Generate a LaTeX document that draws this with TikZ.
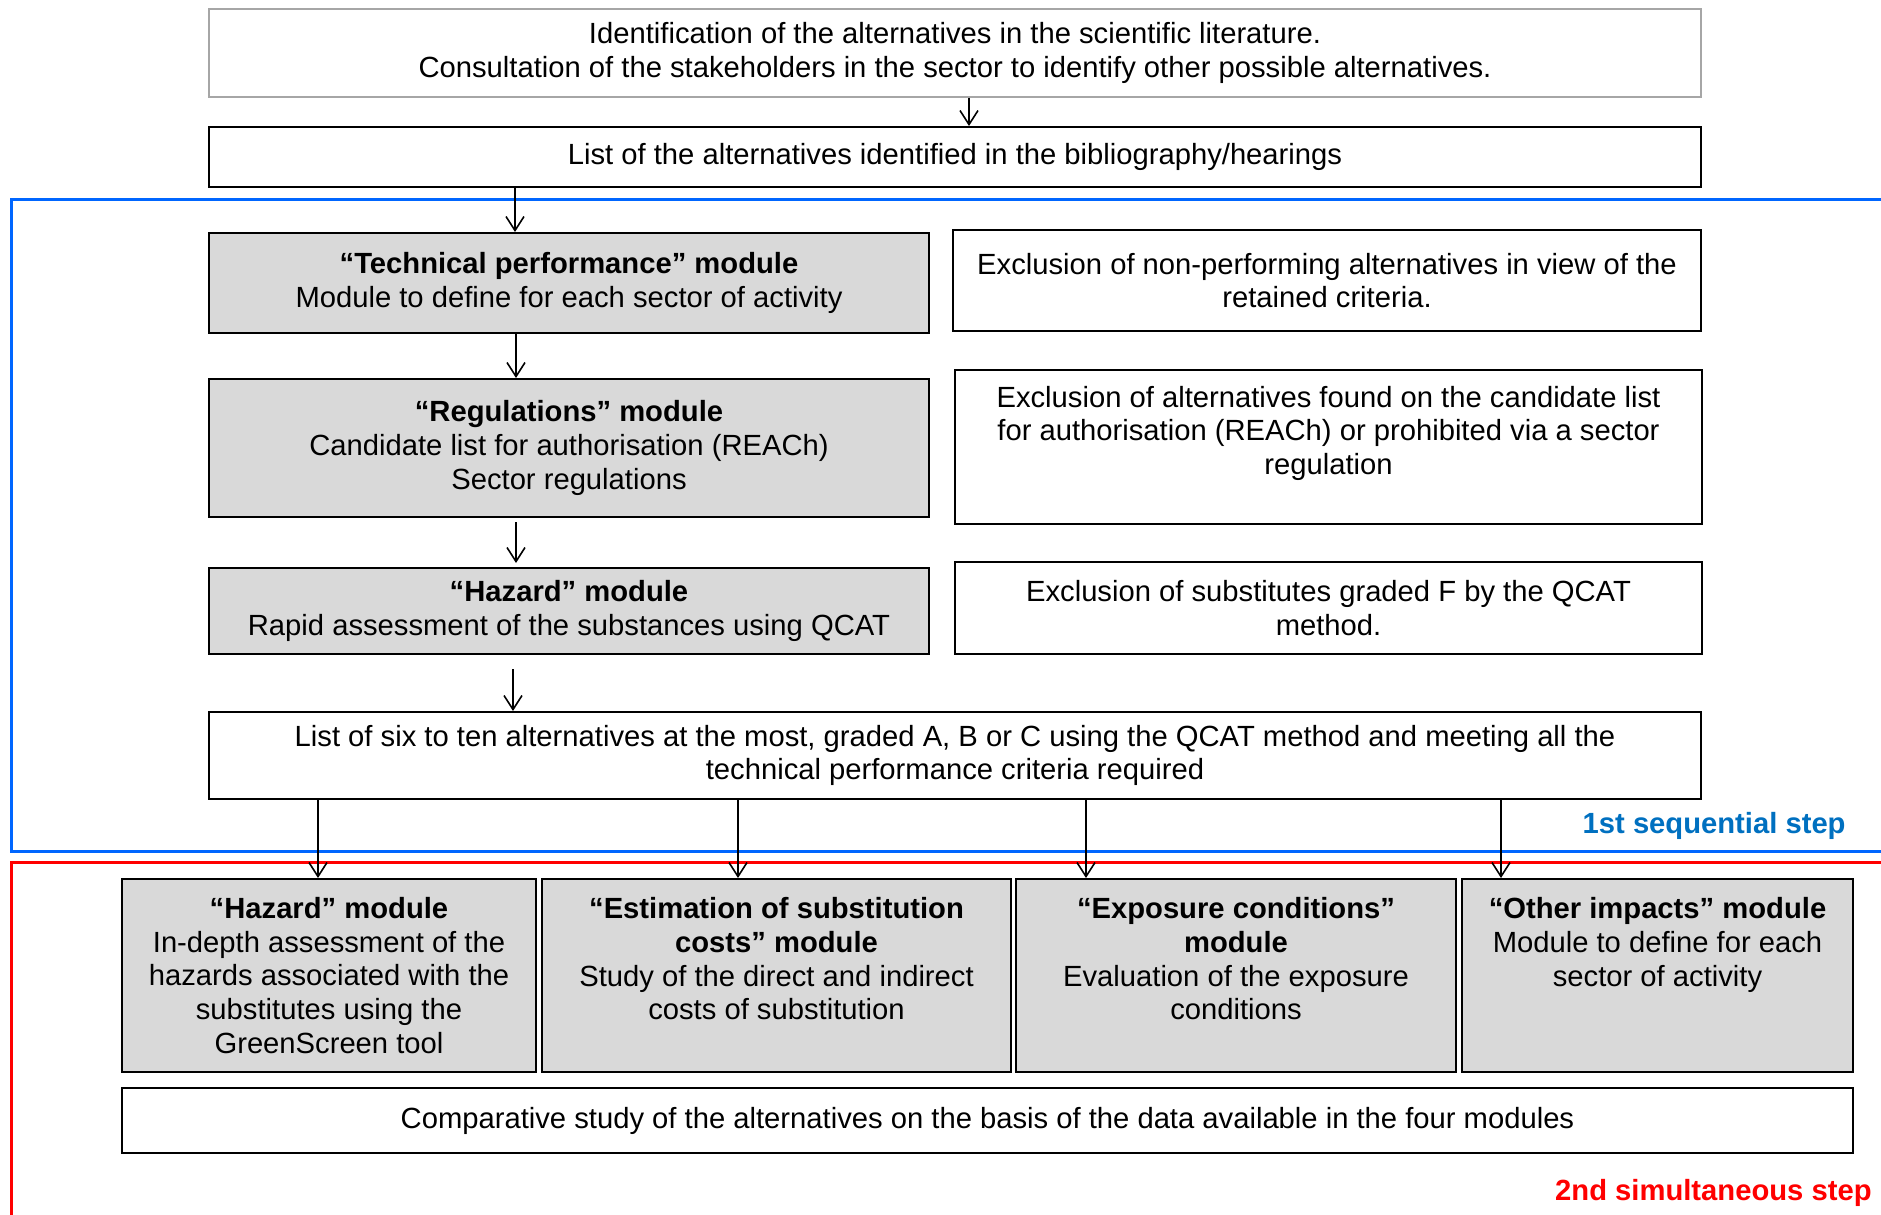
\documentclass[tikz,border=0pt]{standalone}
\usepackage{fontspec}
\setmainfont{Liberation Sans}
\usetikzlibrary{arrows.meta}
\definecolor{stepblue}{RGB}{0,102,255}
\definecolor{steptext}{RGB}{0,112,192}
\definecolor{modgray}{RGB}{217,217,217}
\begin{document}
\begin{tikzpicture}[x=0.5pt, y=-0.5pt, >={Straight Barb[length=7pt,width=9pt]},
    font=\fontsize{14.6}{16.8}\selectfont]
      \tikzstyle{box}=[draw, line width=1pt, align=center, inner sep=0pt, anchor=center]
      \tikzstyle{module}=[box, fill=modgray]
      \tikzstyle{arr}=[->, line width=0.8pt]
      \useasboundingbox (0,0) rectangle (1881,1215);

      % step frames
      \draw [stepblue, line width=1.5pt] (1890,199) -- (11,199) -- (11,851) -- (1890,851);
      \draw [red, line width=1.5pt] (1890,862) -- (11,862) -- (11,1225);
      \node [anchor=east, inner sep=0pt, text=steptext, font=\fontsize{14.6}{16.8}\selectfont\bfseries] (step1) at (1846,826) {1st sequential step};
      \node [anchor=east, inner sep=0pt, text=red, font=\fontsize{14.6}{16.8}\selectfont\bfseries] (step2) at (1872,1193) {2nd simultaneous step};

      % draw boxes
      \node [box, draw=gray!70, line width=0.6pt, minimum width=746pt, minimum height=44pt] (ident) at (955,53)
        {Identification of the alternatives in the scientific literature.\\Consultation of the stakeholders in the sector to identify other possible alternatives.};
      \node [box, minimum width=746pt, minimum height=30pt] (biblio) at (955,157)
        {List of the alternatives identified in the bibliography/hearings};

      \node [module, minimum width=360pt, minimum height=50pt] (technical) at (569,283)
        {\textbf{“Technical performance” module}\\Module to define for each sector of activity};
      \node [box, minimum width=374pt, minimum height=50.5pt] (excl1) at (1327,280.5)
        {Exclusion of non-performing alternatives in view of the\\retained criteria.};

      \node [module, minimum width=360pt, minimum height=69pt] (regulations) at (569,448)
        {\textbf{“Regulations” module}\\Candidate list for authorisation (REACh)\\Sector regulations};
      \node [box, minimum width=373.5pt, minimum height=77pt] (excl2) at (1328.5,447)
        {Exclusion of alternatives found on the candidate list\\for authorisation (REACh) or prohibited via a sector\\regulation\\\mbox{}};

      \node [module, minimum width=360pt, minimum height=43pt] (hazard) at (569,611)
        {\textbf{“Hazard” module}\\Rapid assessment of the substances using QCAT};
      \node [box, minimum width=373.5pt, minimum height=46pt] (excl3) at (1328.5,608)
        {Exclusion of substitutes graded F by the QCAT\\method.};

      \node [box, minimum width=746pt, minimum height=43.5pt] (shortlist) at (955,755.5)
        {List of six to ten alternatives at the most, graded A, B or C using the QCAT method and meeting all the\\technical performance criteria required};

      \node [module, minimum width=207pt, minimum height=96.5pt] (hazard2) at (329,975.5)
        {\textbf{“Hazard” module}\\In-depth assessment of the\\hazards associated with the\\substitutes using the\\GreenScreen tool};
      \node [module, minimum width=234.5pt, minimum height=96.5pt] (costs) at (776.5,975.5)
        {\textbf{“Estimation of substitution}\\\textbf{costs” module}\\Study of the direct and indirect\\costs of substitution\\\mbox{}};
      \node [module, minimum width=220pt, minimum height=96.5pt] (exposure) at (1236,975.5)
        {\textbf{“Exposure conditions”}\\\textbf{module}\\Evaluation of the exposure\\conditions\\\mbox{}};
      \node [module, minimum width=195.5pt, minimum height=96.5pt] (impacts) at (1657.5,975.5)
        {\textbf{“Other impacts” module}\\Module to define for each\\sector of activity\\\mbox{}\\\mbox{}};

      \node [box, minimum width=865.5pt, minimum height=32.5pt] (compare) at (987.5,1120.5)
        {Comparative study of the alternatives on the basis of the data available in the four modules};

      % draw arrows
      \draw [arr] (ident.south -| 969,0) -- (biblio.north -| 969,0);
      \draw [arr] (biblio.south -| 515,0) -- (technical.north -| 515,0);
      \draw [arr] (technical.south -| 516,0) -- (regulations.north -| 516,0);
      \draw [arr, shorten <=2pt, shorten >=2pt] (regulations.south -| 516,0) -- (hazard.north -| 516,0);
      \draw [arr, shorten <=7pt] (hazard.south -| 513,0) -- (shortlist.north -| 513,0);

      \foreach \x/\m in {318/hazard2, 738/costs, 1086/exposure, 1501/impacts}
      \draw [arr] (shortlist.south -| \x,0) -- (\m.north -| \x,0);

    \end{tikzpicture}
\end{document}
